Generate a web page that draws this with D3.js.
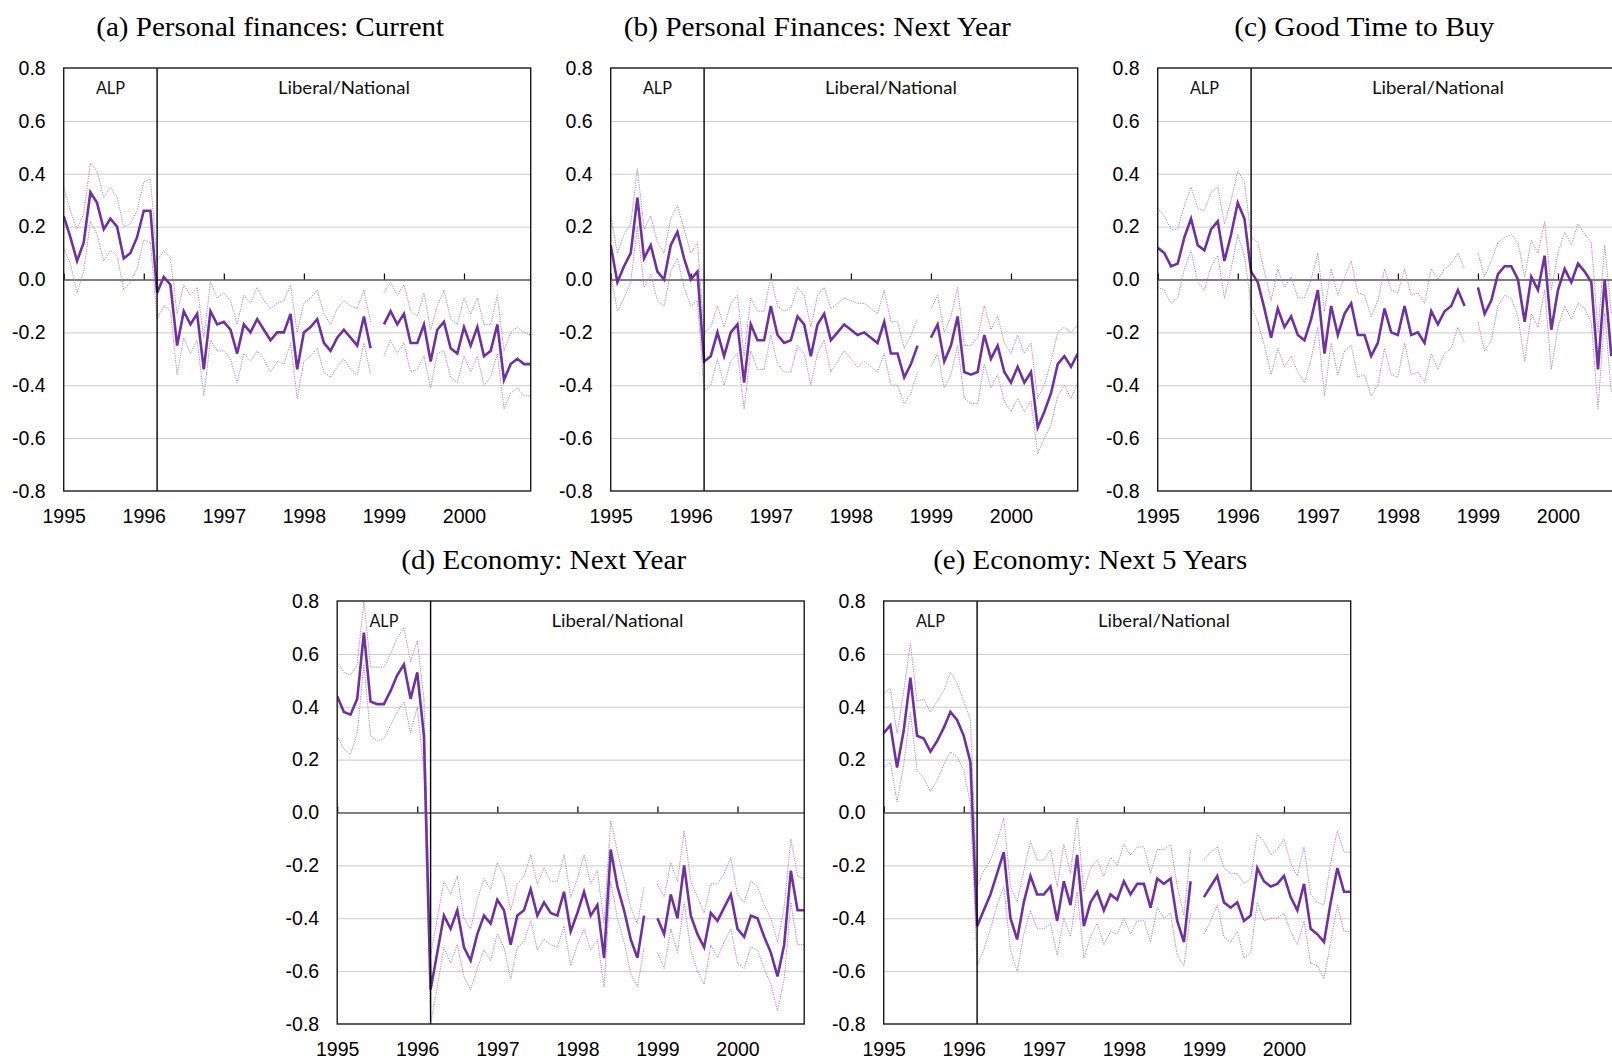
<!DOCTYPE html>
<html>
<head>
<meta charset="utf-8">
<script src="https://cdn.jsdelivr.net/npm/d3@7"></script>
<style>
  body { margin: 0; background: #fff; overflow: hidden; }
  svg { display: block; }
</style>
</head>
<body>
<svg width="1612" height="1058"></svg>
<script>

let svg = d3.select("svg");

// x axis: monthly index, Jan 1995 = 0 ... Nov 2000 = 70
let yearLabels = ["1995", "1996", "1997", "1998", "1999", "2000"];
let yearIdx = [0, 12, 24, 36, 48, 60];
let lastIdx = 70;
let electionIdx = 14; // March 1996
let yTicks = [-0.8, -0.6, -0.4, -0.2, 0, 0.2, 0.4, 0.6, 0.8];
let regimeLabels = ["ALP", "Liberal/National"];

let titles = [
    "(a) Personal finances: Current",
    "(b) Personal Finances: Next Year",
    "(c) Good Time to Buy",
    "(d) Economy: Next Year",
    "(e) Economy: Next 5 Years"
];

// (a) Personal finances: current
let aMain = [
    0.24, 0.16, 0.07, 0.14, 0.33, 0.29, 0.19, 0.23, 0.20, 0.08, 0.10, 0.16,
    0.26, 0.26, -0.05, 0.01, -0.02, -0.25, -0.12, -0.17, -0.13, -0.34, -0.12, -0.17,
    -0.16, -0.19, -0.28, -0.17, -0.20, -0.15, -0.19, -0.23, -0.20, -0.20, -0.13, -0.34,
    -0.20, -0.18, -0.15, -0.24, -0.27, -0.22, -0.19, -0.22, -0.25, -0.14, -0.26, null,
    -0.17, -0.12, -0.17, -0.13, -0.24, -0.24, -0.17, -0.31, -0.19, -0.16, -0.26, -0.28,
    -0.18, -0.25, -0.18, -0.29, -0.27, -0.17, -0.38, -0.32, -0.30, -0.32, -0.32];
let aHi = [
    0.35, 0.26, 0.19, 0.25, 0.44, 0.41, 0.31, 0.35, 0.31, 0.20, 0.21, 0.26,
    0.37, 0.38, 0.07, 0.11, 0.08, -0.13, -0.02, -0.06, -0.03, -0.22, -0.01, -0.07,
    -0.05, -0.08, -0.17, -0.06, -0.09, -0.03, -0.08, -0.11, -0.09, -0.08, -0.02, -0.20,
    -0.09, -0.07, -0.04, -0.13, -0.17, -0.11, -0.08, -0.10, -0.11, -0.04, -0.16, null,
    -0.05, -0.01, -0.06, -0.02, -0.12, -0.14, -0.05, -0.19, -0.10, -0.04, -0.15, -0.17,
    -0.07, -0.13, -0.07, -0.17, -0.17, -0.06, -0.27, -0.20, -0.18, -0.20, -0.21];
let aLo = [
    0.12, 0.06, -0.05, 0.03, 0.22, 0.17, 0.07, 0.11, 0.09, -0.04, -0.01, 0.04,
    0.15, 0.14, -0.15, -0.10, -0.12, -0.36, -0.22, -0.28, -0.23, -0.44, -0.23, -0.27,
    -0.27, -0.30, -0.39, -0.28, -0.31, -0.27, -0.30, -0.35, -0.31, -0.32, -0.24, -0.45,
    -0.31, -0.29, -0.26, -0.35, -0.37, -0.33, -0.30, -0.34, -0.36, -0.24, -0.36, null,
    -0.29, -0.23, -0.28, -0.24, -0.35, -0.34, -0.29, -0.41, -0.28, -0.27, -0.37, -0.39,
    -0.29, -0.35, -0.29, -0.40, -0.37, -0.28, -0.49, -0.43, -0.41, -0.44, -0.44];

// (b) Personal finances: next year
let bMain = [
    0.13, -0.01, 0.05, 0.10, 0.31, 0.08, 0.13, 0.03, 0.00, 0.13, 0.18, 0.08,
    0.00, 0.03, -0.31, -0.29, -0.20, -0.29, -0.20, -0.17, -0.39, -0.17, -0.23, -0.23,
    -0.10, -0.21, -0.24, -0.23, -0.14, -0.17, -0.29, -0.17, -0.13, -0.23, -0.20, -0.17,
    -0.19, -0.21, -0.20, -0.22, -0.24, -0.16, -0.28, -0.28, -0.37, -0.32, -0.25, null,
    -0.22, -0.17, -0.31, -0.25, -0.14, -0.35, -0.36, -0.35, -0.21, -0.30, -0.25, -0.35,
    -0.39, -0.33, -0.39, -0.35, -0.56, -0.50, -0.43, -0.32, -0.29, -0.33, -0.28];
let bHi = [
    0.24, 0.10, 0.17, 0.21, 0.42, 0.19, 0.24, 0.14, 0.10, 0.23, 0.28, 0.19,
    0.10, 0.14, -0.20, -0.18, -0.10, -0.18, -0.09, -0.06, -0.29, -0.07, -0.12, -0.12,
    0.01, -0.10, -0.12, -0.11, -0.03, -0.06, -0.18, -0.06, -0.03, -0.11, -0.09, -0.07,
    -0.08, -0.09, -0.09, -0.11, -0.13, -0.04, -0.16, -0.16, -0.26, -0.21, -0.15, null,
    -0.11, -0.06, -0.20, -0.14, -0.03, -0.25, -0.25, -0.22, -0.10, -0.19, -0.14, -0.24,
    -0.28, -0.21, -0.28, -0.24, -0.45, -0.40, -0.31, -0.20, -0.18, -0.20, -0.17];
let bLo = [
    0.02, -0.12, -0.07, -0.01, 0.20, -0.03, 0.02, -0.08, -0.10, 0.03, 0.08, -0.03,
    -0.10, -0.08, -0.42, -0.40, -0.30, -0.40, -0.31, -0.28, -0.49, -0.27, -0.34, -0.34,
    -0.21, -0.32, -0.35, -0.35, -0.25, -0.28, -0.40, -0.28, -0.23, -0.35, -0.31, -0.27,
    -0.30, -0.33, -0.31, -0.33, -0.35, -0.28, -0.40, -0.40, -0.47, -0.43, -0.35, null,
    -0.33, -0.28, -0.41, -0.36, -0.25, -0.45, -0.47, -0.47, -0.32, -0.41, -0.36, -0.46,
    -0.50, -0.45, -0.50, -0.46, -0.66, -0.60, -0.55, -0.44, -0.40, -0.45, -0.39];

// (c) Good time to buy (right end is cut off in the figure)
let cMain = [
    0.12, 0.10, 0.05, 0.06, 0.16, 0.23, 0.13, 0.11, 0.19, 0.22, 0.07, 0.17,
    0.29, 0.23, 0.03, -0.01, -0.11, -0.22, -0.11, -0.18, -0.14, -0.21, -0.23, -0.15,
    -0.04, -0.28, -0.10, -0.21, -0.13, -0.09, -0.21, -0.21, -0.29, -0.24, -0.11, -0.20,
    -0.21, -0.10, -0.21, -0.20, -0.24, -0.12, -0.17, -0.12, -0.10, -0.04, -0.10, null,
    -0.03, -0.13, -0.08, 0.02, 0.05, 0.05, 0.00, -0.16, 0.01, -0.04, 0.09, -0.19,
    -0.04, 0.04, -0.01, 0.06, 0.03, -0.01, -0.34, 0.00, -0.29];
let cHi = [
    0.27, 0.24, 0.19, 0.19, 0.28, 0.35, 0.27, 0.26, 0.33, 0.35, 0.21, 0.30,
    0.41, 0.37, 0.16, 0.14, 0.03, -0.08, 0.04, -0.03, 0.01, -0.07, -0.07, 0.00,
    0.10, -0.12, 0.04, -0.06, 0.01, 0.07, -0.05, -0.06, -0.14, -0.08, 0.04, -0.04,
    -0.05, 0.04, -0.06, -0.05, -0.09, 0.04, 0.00, 0.04, 0.06, 0.10, 0.04, null,
    0.10, 0.01, 0.07, 0.14, 0.16, 0.17, 0.14, 0.01, 0.15, 0.10, 0.22, -0.04,
    0.10, 0.18, 0.13, 0.21, 0.17, 0.14, -0.20, 0.13, -0.13];
let cLo = [
    -0.03, -0.04, -0.09, -0.07, 0.04, 0.11, -0.01, -0.04, 0.05, 0.09, -0.07, 0.04,
    0.17, 0.09, -0.10, -0.16, -0.25, -0.36, -0.26, -0.33, -0.29, -0.35, -0.39, -0.30,
    -0.18, -0.44, -0.24, -0.36, -0.27, -0.25, -0.37, -0.36, -0.44, -0.40, -0.26, -0.36,
    -0.37, -0.24, -0.36, -0.35, -0.39, -0.28, -0.34, -0.28, -0.26, -0.18, -0.24, null,
    -0.16, -0.27, -0.23, -0.10, -0.06, -0.07, -0.14, -0.31, -0.13, -0.18, -0.04, -0.34,
    -0.18, -0.10, -0.15, -0.09, -0.11, -0.16, -0.49, -0.13, -0.43];

// (d) Economy: next year
let dMain = [
    0.44, 0.38, 0.37, 0.43, 0.68, 0.42, 0.41, 0.41, 0.46, 0.52, 0.56, 0.43,
    0.53, 0.29, -0.67, -0.53, -0.39, -0.44, -0.37, -0.51, -0.56, -0.46, -0.39, -0.42,
    -0.33, -0.37, -0.50, -0.39, -0.37, -0.29, -0.39, -0.34, -0.38, -0.39, -0.30, -0.45,
    -0.38, -0.30, -0.39, -0.35, -0.55, -0.14, -0.28, -0.37, -0.48, -0.55, -0.39, null,
    -0.40, -0.46, -0.31, -0.40, -0.20, -0.39, -0.46, -0.51, -0.38, -0.41, -0.36, -0.31,
    -0.44, -0.47, -0.39, -0.40, -0.47, -0.53, -0.62, -0.50, -0.22, -0.37, -0.37];
let dHi = [
    0.57, 0.53, 0.52, 0.56, 0.80, 0.55, 0.55, 0.55, 0.60, 0.66, 0.70, 0.57,
    0.65, 0.43, -0.54, -0.40, -0.26, -0.31, -0.24, -0.40, -0.44, -0.33, -0.25, -0.29,
    -0.19, -0.24, -0.37, -0.27, -0.24, -0.16, -0.27, -0.21, -0.26, -0.26, -0.16, -0.32,
    -0.25, -0.16, -0.27, -0.22, -0.42, -0.03, -0.15, -0.25, -0.36, -0.42, -0.28, null,
    -0.27, -0.32, -0.19, -0.26, -0.07, -0.26, -0.32, -0.38, -0.27, -0.27, -0.23, -0.17,
    -0.31, -0.34, -0.26, -0.28, -0.35, -0.40, -0.49, -0.36, -0.10, -0.24, -0.25];
let dLo = [
    0.29, 0.24, 0.22, 0.30, 0.56, 0.29, 0.27, 0.28, 0.33, 0.38, 0.42, 0.30,
    0.40, 0.15, -0.80, -0.66, -0.51, -0.57, -0.50, -0.62, -0.67, -0.59, -0.52, -0.56,
    -0.46, -0.51, -0.63, -0.51, -0.49, -0.41, -0.52, -0.48, -0.50, -0.51, -0.43, -0.58,
    -0.50, -0.44, -0.52, -0.48, -0.66, -0.26, -0.40, -0.49, -0.61, -0.66, -0.51, null,
    -0.53, -0.59, -0.44, -0.53, -0.34, -0.52, -0.60, -0.65, -0.50, -0.55, -0.49, -0.44,
    -0.57, -0.59, -0.51, -0.52, -0.59, -0.65, -0.75, -0.63, -0.34, -0.50, -0.50];

// (e) Economy: next 5 years
let eMain = [
    0.30, 0.33, 0.17, 0.31, 0.51, 0.29, 0.28, 0.23, 0.27, 0.32, 0.38, 0.35,
    0.29, 0.19, -0.43, -0.37, -0.31, -0.23, -0.15, -0.40, -0.48, -0.34, -0.24, -0.31,
    -0.31, -0.28, -0.41, -0.26, -0.35, -0.16, -0.43, -0.34, -0.30, -0.37, -0.31, -0.33,
    -0.26, -0.31, -0.27, -0.27, -0.36, -0.25, -0.27, -0.25, -0.41, -0.49, -0.26, null,
    -0.32, -0.28, -0.24, -0.34, -0.36, -0.34, -0.41, -0.39, -0.21, -0.26, -0.28, -0.27,
    -0.24, -0.32, -0.37, -0.27, -0.44, -0.46, -0.49, -0.34, -0.21, -0.30, -0.30];
let eHi = [
    0.45, 0.47, 0.30, 0.46, 0.64, 0.42, 0.43, 0.38, 0.42, 0.46, 0.53, 0.49,
    0.42, 0.35, -0.28, -0.22, -0.18, -0.11, -0.02, -0.28, -0.34, -0.22, -0.11, -0.18,
    -0.18, -0.14, -0.28, -0.12, -0.23, -0.02, -0.30, -0.21, -0.18, -0.24, -0.17, -0.20,
    -0.12, -0.16, -0.13, -0.13, -0.23, -0.14, -0.14, -0.12, -0.28, -0.39, -0.14, null,
    -0.18, -0.15, -0.13, -0.21, -0.23, -0.23, -0.27, -0.25, -0.08, -0.11, -0.16, -0.14,
    -0.10, -0.19, -0.24, -0.13, -0.31, -0.34, -0.35, -0.19, -0.07, -0.15, -0.15];
let eLo = [
    0.17, 0.19, 0.04, 0.18, 0.38, 0.16, 0.13, 0.08, 0.12, 0.18, 0.23, 0.21,
    0.16, 0.03, -0.58, -0.52, -0.44, -0.35, -0.28, -0.52, -0.60, -0.46, -0.37, -0.44,
    -0.44, -0.42, -0.54, -0.40, -0.47, -0.30, -0.55, -0.47, -0.42, -0.50, -0.45, -0.46,
    -0.40, -0.46, -0.41, -0.41, -0.49, -0.36, -0.40, -0.38, -0.54, -0.58, -0.38, null,
    -0.46, -0.41, -0.35, -0.47, -0.49, -0.45, -0.55, -0.53, -0.34, -0.41, -0.40, -0.40,
    -0.38, -0.45, -0.50, -0.41, -0.57, -0.58, -0.63, -0.49, -0.35, -0.45, -0.45];

let mains = [aMain, bMain, cMain, dMain, eMain];
let his = [aHi, bHi, cHi, dHi, eHi];
let los = [aLo, bLo, cLo, dLo, eLo];

//////////// LAYOUT ////////////

let panelLeft = [63.7, 610.7, 1157.7, 337.2, 883.7];
let panelTop = [68, 68, 68, 601, 601];
let titleWidth = [348, 387, 260, 285, 314]; // CM-like width of each caption
let W = 467, H = 423;

let mainColor = "#7030a0";
let bandColor = "#a880d8";
let tickFont = "'Liberation Sans', Arial, sans-serif";

//////////// DISPLAY ////////////

function drawPanel(i) {
    let g = svg.append("g")
        .attr("transform", `translate(${panelLeft[i]},${panelTop[i]})`);

    let x = d3.scaleLinear().domain([0, lastIdx]).range([0, W]);
    let y = d3.scaleLinear().domain([-0.8, 0.8]).range([H, 0]);

    g.append("clipPath").attr("id", "clip" + i)
        .append("rect").attr("width", W).attr("height", H);

    // horizontal gridlines
    g.append("g")
        .call(d3.axisLeft(y)
            .tickValues(yTicks.filter(v => v !== 0 && Math.abs(v) < 0.8))
            .tickSize(-W).tickFormat(""))
        .call(s => s.select(".domain").remove())
        .selectAll("line").attr("stroke", "#cbcbcb").attr("stroke-width", 1);

    // y tick labels (font set after the axis call, which resets it)
    g.append("g")
        .call(d3.axisLeft(y).tickValues(yTicks).tickSize(0).tickPadding(18)
            .tickFormat(d => d.toFixed(1)))
        .attr("font-family", tickFont)
        .attr("font-size", 19.5)
        .call(s => s.select(".domain").remove())
        .selectAll("text").attr("fill", "#000");

    // year labels along the bottom
    g.append("g")
        .attr("transform", `translate(0,${H})`)
        .call(d3.axisBottom(x).tickValues(yearIdx).tickSize(0).tickPadding(18)
            .tickFormat((d, j) => yearLabels[j]))
        .attr("font-family", tickFont)
        .attr("font-size", 19.5)
        .call(s => s.select(".domain").remove())
        .selectAll("text").attr("fill", "#000");

    // zero line with small year ticks pointing up
    g.append("g")
        .attr("transform", `translate(0,${y(0)})`)
        .call(d3.axisBottom(x).tickValues(yearIdx).tickSizeInner(-6).tickSizeOuter(0)
            .tickFormat(""))
        .call(s => s.selectAll("path, line").attr("stroke", "#000").attr("stroke-width", 1.2));

    let line = d3.line()
        .defined(d => d != null)
        .x((d, j) => x(j))
        .y(d => y(d));

    let series = g.append("g").attr("clip-path", `url(#clip${i})`);

    // confidence bands (thin dotted)
    [his[i], los[i]].forEach(function (band) {
        series.append("path")
            .datum(band)
            .attr("fill", "none")
            .attr("stroke", bandColor)
            .attr("stroke-width", 1)
            .attr("stroke-dasharray", "1.2,1.2")
            .attr("d", line);
    });

    // main series
    series.append("path")
        .datum(mains[i])
        .attr("fill", "none")
        .attr("stroke", mainColor)
        .attr("stroke-width", 2.6)
        .attr("stroke-linejoin", "miter")
        .attr("d", line);

    // election divider
    g.append("line")
        .attr("x1", x(electionIdx)).attr("x2", x(electionIdx))
        .attr("y1", 0).attr("y2", H)
        .attr("stroke", "#000").attr("stroke-width", 1.4);

    // plot frame
    g.append("rect")
        .attr("width", W).attr("height", H)
        .attr("fill", "none")
        .attr("stroke", "#1a1a1a").attr("stroke-width", 1.4);

    // government labels
    let labelX = [(x(0) + x(electionIdx)) / 2, (x(electionIdx) + x(lastIdx)) / 2];
    let labelW = [29, 132];
    regimeLabels.forEach(function (t, j) {
        g.append("text")
            .attr("x", labelX[j])
            .attr("y", 25.5)
            .attr("text-anchor", "middle")
            .attr("font-family", "Lato, 'Open Sans', sans-serif")
            .attr("font-size", 18)
            .attr("fill", "#111")
            .attr("textLength", labelW[j])
            .attr("lengthAdjust", "spacingAndGlyphs")
            .text(t);
    });

    // panel caption
    g.append("text")
        .attr("x", W / 2 - 27)
        .attr("y", -32)
        .attr("text-anchor", "middle")
        .attr("font-family", "'Liberation Serif', 'DejaVu Serif', serif")
        .attr("font-size", 26.5)
        .attr("fill", "#000")
        .attr("textLength", titleWidth[i])
        .attr("lengthAdjust", "spacingAndGlyphs")
        .text(titles[i]);
}

for (let i = 0; i < titles.length; i++) drawPanel(i);

</script>
</body>
</html>
